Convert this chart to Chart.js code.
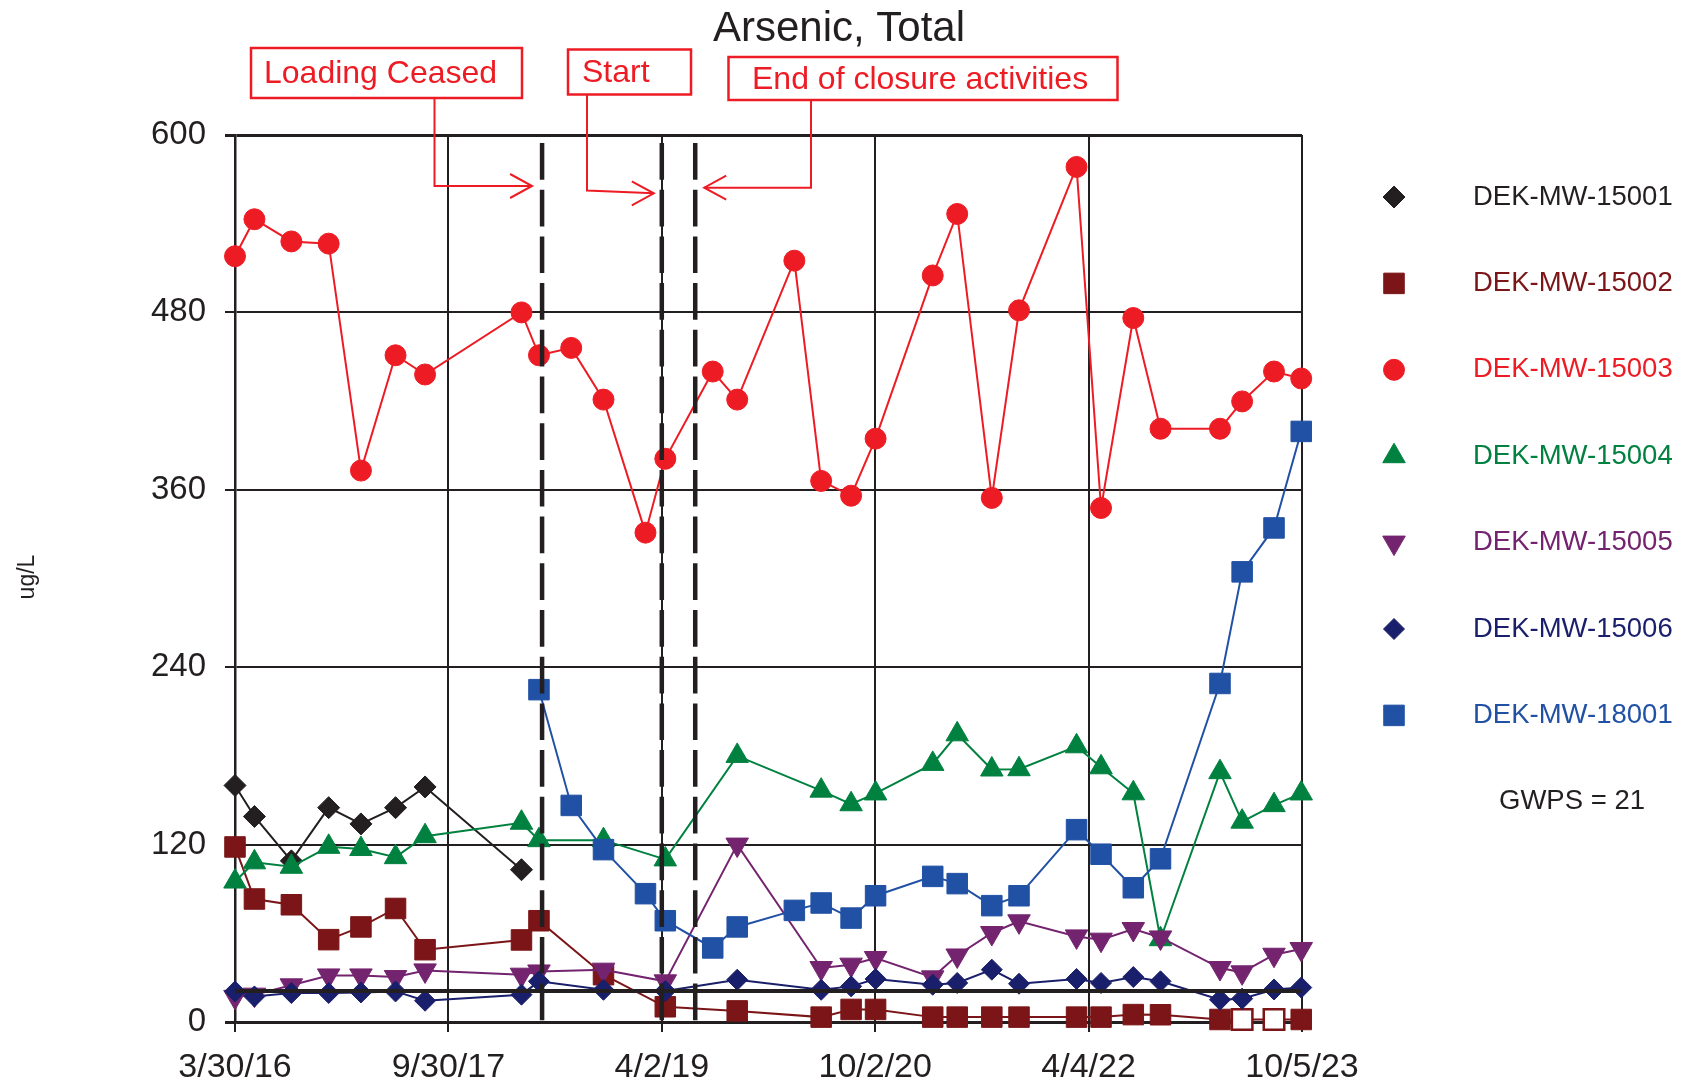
<!DOCTYPE html>
<html>
<head>
<meta charset="utf-8">
<title>Arsenic, Total</title>
<script src="https://cdn.jsdelivr.net/npm/chart.js@4.4.1/dist/chart.umd.min.js"></script>
<style>
  html, body { margin: 0; padding: 0; background: #fff; }
  #wrap { width: 1690px; height: 1084px; }
</style>
</head>
<body>
<div id="wrap"><canvas id="arsenicChart" width="1690" height="1084"></canvas></div>
<script>
// sampling dates shared by all wells (null = not sampled)
const sampleDates = ['2016-03-30', '2016-05-19', '2016-08-22', '2016-11-26', '2017-02-17', '2017-05-17',
  '2017-08-01', '2018-04-06', '2018-05-21', '2018-08-12', '2018-11-03', '2019-02-19', '2019-04-11',
  '2019-08-11', '2019-10-13', '2020-03-08', '2020-05-16', '2020-08-01', '2020-10-03', '2021-02-27',
  '2021-05-01', '2021-07-29', '2021-10-07', '2022-03-04', '2022-05-06', '2022-07-28', '2022-10-06',
  '2023-03-08', '2023-05-04', '2023-07-25', '2023-10-03'];

const mw15001 = [160, 139, 109, 145, 134, 145, 159, 103, null, null, null, null, null, null, null, null,
  null, null, null, null, null, null, null, null, null, null, null, null, null, null, null];
const mw15002 = [118.4, 83.2, 79.3, 55.7, 64.3, 76.8, 48.9, 55.5, 68.5, null, 32, null, 10.3, null, 7.5, null,
  3.3, 8.5, 8.5, 3.3, 3.3, 3.3, 3.3, 3.3, 3.3, 5, 4.9, 1.7, 1.7, 1.7, 1.7];
const mw15002Hollow = [28, 29]; // drawn as open squares
const mw15003 = [518, 543, 528, 526.5, 373, 451, 438, 480, 451, 456, 421, 331, 381, 440, 421, 515,
  366, 356, 394.6, 505, 546.6, 354.5, 481.4, 578.4, 347.7, 476.2, 401.3, 401.3, 419.8, 440, 435.3];
const mw15004 = [95, 108, 105, 118.5, 117, 111.5, 125.7, 134.8, 123, null, 123, null, 110, null, 180, null,
  156.5, 147.3, 154.6, 174.6, 194.6, 170.8, 171, 186.5, 172.3, 154.7, 56, 169, 135.5, 146.7, 154.6];
const mw15005 = [17, 18.5, 24.8, 31.5, 31.5, 30.4, 34.9, 32, 34.2, null, 35.4, null, 27.5, null, 120, null,
  36.5, 38.8, 43.3, 30.2, 45, 60.2, 68.1, 57.9, 55.7, 62.9, 57.2, 36.5, 33.6, 45.5, 49.4];
const mw15006 = [20.7, 17.3, 19.6, 19.6, 20, 20.7, 14.4, 18.5, 27.5, null, 21.8, null, 21, null, 28.6, null,
  21.8, 24.1, 29.1, 25.2, 26.4, 35.4, 25.9, 29.1, 26.4, 30.4, 27.5, 15.1, 15.8, 22, 23.3];
const mw18001 = [null, null, null, null, null, null, null, null, 224.8, 146.5, 116.6, 86.8, 68.5, 50.1, 64.3, 75.5,
  80.5, 70.3, 85.4, 98.5, 93.6, 78.7, 85.4, 130.1, 113.5, 90.8, 110.4, 229, 304.5, 334.2, 399.5];

const xTickDates = ['2016-03-30', '2017-09-30', '2019-04-02', '2020-10-02', '2022-04-04', '2023-10-05'];
const xTickLabels = ['3/30/16', '9/30/17', '4/2/19', '10/2/20', '4/4/22', '10/5/23'];
const yTicks = [0, 120, 240, 360, 480, 600];
const gwps = 21;
const eventDates = ['2018-05-29', '2019-04-02', '2019-06-27'];
const eventLabels = ['Loading Ceased', 'Start', 'End of closure activities'];

const ink = '#231f20';
const calloutRed = '#ed1c24';
const fontFamily = "'Liberation Sans', Arial, Helvetica, sans-serif";

const day0 = Date.UTC(2016, 2, 30);
function dayOf(s) {
  const p = s.split('-').map(Number);
  return (Date.UTC(p[0], p[1] - 1, p[2]) - day0) / 86400000;
}

function points(values, hollow) {
  const out = [];
  values.forEach((v, i) => {
    if (v === null) return;
    out.push({ x: dayOf(sampleDates[i]), y: v, hollow: !!(hollow && hollow.includes(i)) });
  });
  return out;
}

const wells = [
  { label: 'DEK-MW-15001', values: mw15001, color: ink, style: 'rectRot', radius: 11 },
  { label: 'DEK-MW-15002', values: mw15002, color: '#7b1517', style: 'rect', radius: 14.5, hollow: mw15002Hollow },
  { label: 'DEK-MW-15003', values: mw15003, color: '#ed1c24', style: 'circle', radius: 10.5 },
  { label: 'DEK-MW-15004', values: mw15004, color: '#00813f', style: 'triangle', radius: 13 },
  { label: 'DEK-MW-15005', values: mw15005, color: '#74246f', style: 'triangle', radius: 13, rotation: 180 },
  { label: 'DEK-MW-15006', values: mw15006, color: '#1a1f6c', style: 'rectRot', radius: 10.5 },
  { label: 'DEK-MW-18001', values: mw18001, color: '#2151a5', style: 'rect', radius: 14.5 }
];

const datasets = wells.map((w, i) => ({
  label: w.label,
  data: points(w.values, w.hollow),
  borderColor: w.color,
  backgroundColor: w.color,
  borderWidth: 2,
  tension: 0,
  clip: false,
  order: wells.length - i,
  pointStyle: w.style,
  pointRotation: w.rotation || 0,
  pointRadius: w.radius,
  pointHoverRadius: w.radius,
  pointBorderColor: w.color,
  pointBorderWidth: ctx => (ctx.raw && ctx.raw.hollow ? 2.5 : 1),
  pointBackgroundColor: ctx => (ctx.raw && ctx.raw.hollow ? '#ffffff' : w.color)
}));

// title, axis title, legend, reference lines and callouts
const decorations = {
  id: 'decorations',
  afterDatasetsDraw(chart) {
    const { ctx, chartArea: a, scales: { x, y } } = chart;
    ctx.save();
    const gy = y.getPixelForValue(gwps);
    ctx.strokeStyle = ink;
    ctx.lineWidth = 4;
    ctx.beginPath();
    ctx.moveTo(a.left, gy);
    ctx.lineTo(a.right, gy);
    ctx.stroke();

    ctx.setLineDash([36.7, 10]);
    ctx.lineWidth = 4.5;
    eventDates.forEach(d => {
      const px = x.getPixelForValue(dayOf(d));
      ctx.beginPath();
      ctx.moveTo(px, a.top + 8);
      ctx.lineTo(px, a.bottom);
      ctx.stroke();
    });
    ctx.restore();
  },
  afterDraw(chart) {
    const { ctx, scales: { x } } = chart;
    ctx.save();

    ctx.fillStyle = ink;
    ctx.textAlign = 'center';
    ctx.textBaseline = 'alphabetic';
    ctx.font = '42px ' + fontFamily;
    ctx.fillText('Arsenic, Total', 839, 41);

    ctx.save();
    ctx.translate(28, 577);
    ctx.rotate(-Math.PI / 2);
    ctx.textBaseline = 'middle';
    ctx.font = '23px ' + fontFamily;
    ctx.fillText('ug/L', 0, 0);
    ctx.restore();

    // legend
    ctx.textAlign = 'left';
    ctx.textBaseline = 'middle';
    ctx.font = '27.5px ' + fontFamily;
    wells.forEach((w, i) => {
      const ly = 197 + i * 86.4;
      ctx.fillStyle = w.color;
      ctx.strokeStyle = w.color;
      ctx.lineWidth = 1;
      Chart.helpers.drawPoint(ctx, { pointStyle: w.style, rotation: w.rotation || 0, radius: w.radius, borderWidth: 1 }, 1394, ly);
      ctx.fillStyle = w.color;
      ctx.fillText(w.label, 1473, ly);
    });
    ctx.fillStyle = ink;
    ctx.textAlign = 'center';
    ctx.fillText('GWPS = ' + gwps, 1572, 801);

    // callout boxes with arrows to the event lines
    const callouts = [
      { box: [251, 48, 522, 98], tx: 264, ty: 83, elbowX: 434.5, elbowY: 186, tipY: 186, gap: -10, dir: 1 },
      { box: [568, 49.5, 691, 94.5], tx: 582, ty: 82, elbowX: 587, elbowY: 190.5, tipY: 193.3, gap: -8, dir: 1 },
      { box: [728.5, 57, 1117.5, 100], tx: 752, ty: 89, elbowX: 811, elbowY: 187.7, tipY: 187.7, gap: 9, dir: -1 }
    ];
    ctx.strokeStyle = calloutRed;
    ctx.fillStyle = calloutRed;
    ctx.textAlign = 'left';
    ctx.textBaseline = 'alphabetic';
    ctx.font = '32px ' + fontFamily;
    callouts.forEach((c, i) => {
      const [x1, y1, x2, y2] = c.box;
      ctx.lineWidth = 2.5;
      ctx.strokeRect(x1, y1, x2 - x1, y2 - y1);
      ctx.fillText(eventLabels[i], c.tx, c.ty);

      const tipX = x.getPixelForValue(dayOf(eventDates[i])) + c.gap;
      ctx.lineWidth = 2;
      ctx.beginPath();
      ctx.moveTo(c.elbowX, y2);
      ctx.lineTo(c.elbowX, c.elbowY);
      ctx.lineTo(tipX, c.tipY);
      ctx.stroke();
      ctx.beginPath();
      ctx.moveTo(tipX - c.dir * 22, c.tipY - 12);
      ctx.lineTo(tipX, c.tipY);
      ctx.lineTo(tipX - c.dir * 22, c.tipY + 12);
      ctx.stroke();
    });
    ctx.restore();
  }
};

const edgeWidth = ctx => (ctx.tick && (ctx.tick.value === 0 || ctx.tick.value === 600) ? 3 : 2);

new Chart(document.getElementById('arsenicChart'), {
  type: 'line',
  data: { datasets: datasets },
  options: {
    responsive: false,
    devicePixelRatio: 1,
    animation: false,
    events: [],
    layout: { padding: { top: 135, right: 388, bottom: 0, left: 0 } },
    plugins: {
      legend: { display: false },
      title: { display: false },
      tooltip: { enabled: false }
    },
    scales: {
      x: {
        type: 'linear',
        min: 0,
        max: dayOf('2023-10-05'),
        afterBuildTicks: s => { s.ticks = xTickDates.map(d => ({ value: dayOf(d) })); },
        afterFit: s => { s.height = 62; },
        ticks: {
          autoSkip: false,
          maxRotation: 0,
          padding: 15,
          color: ink,
          font: { family: fontFamily, size: 34 },
          callback: (v, i) => xTickLabels[i]
        },
        grid: { color: ink, lineWidth: 2, tickLength: 10 },
        border: { color: ink, width: 2.5 }
      },
      y: {
        min: 0,
        max: 600,
        afterBuildTicks: s => { s.ticks = yTicks.map(v => ({ value: v })); },
        afterFit: s => { s.width = 235; },
        ticks: {
          padding: 19,
          color: ink,
          font: { family: fontFamily, size: 33 }
        },
        grid: { color: ink, lineWidth: edgeWidth, tickLength: 10 },
        border: { color: ink, width: 2.5 }
      }
    }
  },
  plugins: [decorations]
});
</script>
</body>
</html>
